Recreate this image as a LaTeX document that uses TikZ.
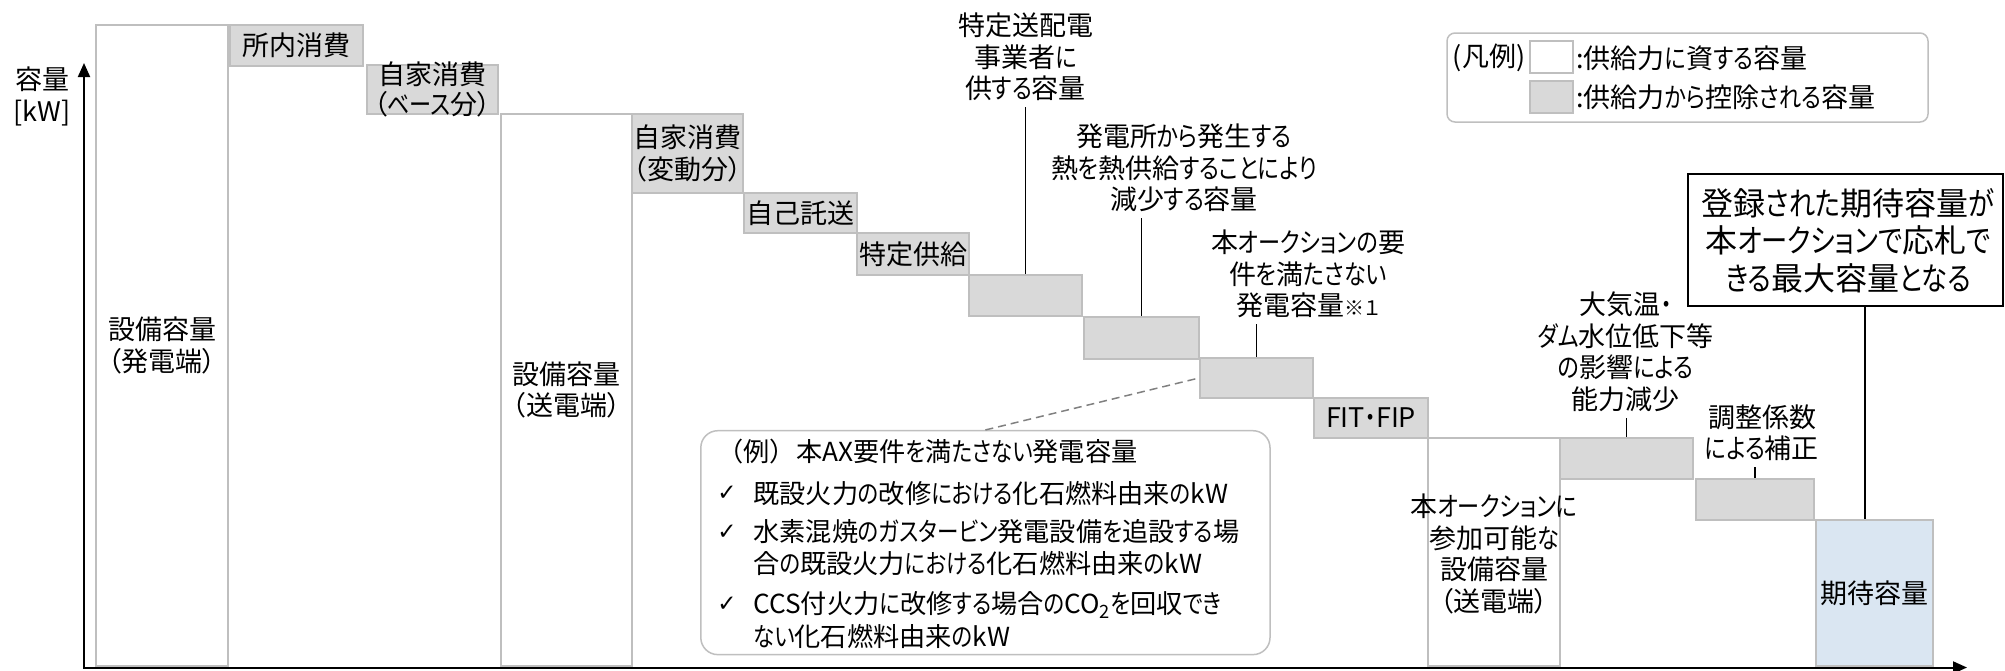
\documentclass[tikz,border=0pt]{standalone}
\usepackage{fontspec}
\setmainfont{Noto Sans CJK JP}[RawFeature={+palt}]
\newfontfamily\basejp{Noto Sans CJK JP}[RawFeature={+palt}]
\newfontfamily\kanafont{Noto Sans CJK JP}[RawFeature={+palt}, FakeStretch=0.82]
\newfontfamily\fwjp{Noto Sans CJK JP}
\newfontfamily\symfont{DejaVu Sans}
% narrower kana (as in the reference font)
\XeTeXinterchartokenstate=1
\chardef\kanaclass=10
\newcount\kanacnt
\kanacnt="3041
\loop
  \XeTeXcharclass\kanacnt=\kanaclass
  \ifnum\kanacnt<"30FF
  \advance\kanacnt by 1
\repeat
\XeTeXinterchartoks 0 \kanaclass = {\kanafont}
\XeTeXinterchartoks 1 \kanaclass = {\kanafont}
\XeTeXinterchartoks 2 \kanaclass = {\kanafont}
\XeTeXinterchartoks 3 \kanaclass = {\kanafont}
\XeTeXinterchartoks 4095 \kanaclass = {\kanafont}
\XeTeXinterchartoks \kanaclass 0 = {\basejp}
\XeTeXinterchartoks \kanaclass 1 = {\basejp}
\XeTeXinterchartoks \kanaclass 2 = {\basejp}
\XeTeXinterchartoks \kanaclass 3 = {\basejp}
\XeTeXinterchartoks \kanaclass 4095 = {\basejp}
\usetikzlibrary{arrows.meta,fit,calc}
\definecolor{boxgray}{HTML}{BFBFBF}
\definecolor{fillgray}{HTML}{D9D9D9}
\definecolor{lightblue}{HTML}{DAE6F2}
\definecolor{dashgray}{HTML}{808080}
\begin{document}
\begin{tikzpicture}[x=0.5pt,y=-0.5pt,
  every node/.style={font=\fontsize{13.5}{15.75}\selectfont, inner sep=0pt, align=center},
  wbox/.style={draw=boxgray, line width=1pt, fill=white, inner sep=0pt},
  gbox/.style={draw=boxgray, line width=1pt, fill=fillgray, inner sep=0pt},
  lbl/.style={inner sep=3pt},
  leader/.style={draw=black, line width=0.6pt},
  extext/.style={anchor=west, font=\fontsize{13.1}{15.75}\selectfont},
  chk/.style={font=\symfont\fontsize{11.5}{13}\selectfont},
  axisline/.style={line width=1pt, line join=miter, {Triangle[length=7pt,width=6pt]}-{Triangle[length=7pt,width=6pt]}},
]
\useasboundingbox (0,0) rectangle (2005,670);

% boxes
\node[wbox, fit={(96,25) (228,666)}] (b1) {};
\node (b1t) at (b1) {設備容量\\（発電端）};
\node[gbox, fit={(230,25) (363,66)}] (g1) {};
\node (g1t) at (g1) {所内消費};
\node[gbox, fit={(367,65) (498,114)}] (g2) {};
\node[font=\fontsize{13.5}{15}\selectfont] (g2t) at (g2) {自家消費\\（ベース分）};
\node[wbox, fit={(501,114) (632,666)}] (b2) {};
\node (b2t) at (b2) {設備容量\\（送電端）};
\node[gbox, fit={(632,114) (743,193)}] (g3) {};
\node (g3t) at (g3) {自家消費\\（変動分）};
\node[gbox, fit={(744,193) (857,233)}] (g4) {};
\node (g4t) at (g4) {自己託送};
\node[gbox, fit={(857,233) (969,275)}] (g5) {};
\node (g5t) at (g5) {特定供給};
\node[gbox, fit={(969,275) (1082,316)}] (g6) {};
\node[gbox, fit={(1084,317) (1199,359)}] (g7) {};
\node[gbox, fit={(1200,358) (1313,398)}] (g8) {};
\node[gbox, fit={(1314,398) (1428,438)}] (g9) {};
\node (g9t) at (g9) {FIT・FIP};
\node[wbox, fit={(1428,438) (1560,666)}] (b3) {};
\node (b3t) at (1494,554) {本オークションに\\参加可能な\\設備容量\\（送電端）};
\node[gbox, fit={(1560,438) (1693,479)}] (g10) {};
\node[gbox, fit={(1696,479) (1814,520)}] (g11) {};
\node[wbox, fill=lightblue, fit={(1816,520) (1933,666)}] (b4) {};
\node (b4t) at (b4) {期待容量};

% labels with leaders
\node[lbl] (la) at (1025.5,57) {特定送配電\\事業者に\\供する容量};
\draw[leader] (g6.north |- la.south) -- (g6.north);
\node[lbl] (lb) at (1184,168) {発電所から発生する\\熱を熱供給することにより\\減少する容量};
\draw[leader] (g7.north |- lb.south) -- (g7.north);
\node[lbl] (lc) at (1308,274) {本オークションの要\\件を満たさない\\発電容量{\fontsize{10}{12}\selectfont ※１}};
\draw[leader] (g8.north |- lc.south) -- (g8.north);
\node[lbl] (ld) at (1625.6,352) {大気温・\\ダム水位低下等\\の影響による\\能力減少};
\draw[leader] (g10.north |- ld.south) -- (g10.north);
\node[lbl] (le) at (1762,432.6) {調整係数\\による補正};
\draw[leader] (g11.north |- le.south) -- (g11.north);

% callout
\node[draw=black, line width=1pt, fill=white, fit={(1687.5,174) (2003,305.5)}] (co) {};
\node[font=\fontsize{16}{18.75}\selectfont] (cot) at (1848,240.5) {登録された期待容量が\\本オークションで応札で\\きる最大容量となる};
\coordinate (kc) at (1865,520);
\draw[line width=1pt] (co.south -| kc) -- (b4.north -| kc);

% legend
\node[draw=boxgray, line width=0.75pt, rounded corners=4pt, fit={(1447,33) (1928,122)}] (leg) {};
\node (legt) at (1489,58) {(凡例)};
\node[wbox, fit={(1530,41) (1573,73)}] (legw) {};
\node[gbox, fit={(1530,81) (1573,113)}] (legg) {};
\node[anchor=west] (legwt) at (1576,58) {:供給力に資する容量};
\node[anchor=west] (leggt) at (1576,97) {:供給力から控除される容量};

% example box
\node[draw=boxgray, line width=0.75pt, fill=white, rounded corners=8.5pt, fit={(700.8,430.7) (1270,654.6)}] (ex) {};
\draw[dashed, dashgray, line width=0.75pt, dash pattern=on 4pt off 2.5pt] (ex.north) -- (g8.west);
\node[extext] (e0) at (717,452) {{\fwjp （例）}本AX要件を満たさない発電容量};
\node[chk] (c1) at (727,493.5) {✓};
\node[extext] (e1) at (753,493.5) {既設火力の改修における化石燃料由来のkW};
\node[chk] (c2) at (727,532) {✓};
\node[extext] (e2) at (753,532) {水素混焼のガスタービン発電設備を追設する場};
\node[extext] (e2b) at (753,564) {合の既設火力における化石燃料由来のkW};
\node[chk] (c3) at (727,604.6) {✓};
\node[extext] (e3) at (753,604.6) {CCS付火力に改修する場合のCO\textsubscript{2}を回収でき};
\node[extext] (e3b) at (753,636.7) {ない化石燃料由来のkW};

% axes
\coordinate (O) at (84,667.5);
\coordinate (ytip) at (84,63);
\coordinate (xtip) at (1967,667.5);
\draw[axisline] (ytip) -- (O) -- (xtip);
\node (yl1) at (42,79) {容量};
\node (yl2) at (42,113.5) {[kW]};
\end{tikzpicture}
\end{document}
